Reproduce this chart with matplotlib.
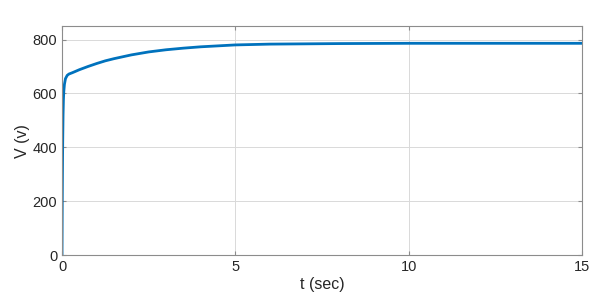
import matplotlib
matplotlib.use("Agg")
import matplotlib.pyplot as plt

t = [0, 0.005, 0.01, 0.015, 0.02, 0.03, 0.04, 0.05, 0.07, 0.1, 0.15, 0.2, 0.3, 0.5, 0.75, 1.0,
     1.25, 1.5, 2.0, 2.5, 3.0, 3.5, 4.0, 5.0, 6.0, 7.0, 8.0, 10.0, 12.0, 15.0]
V = [0, 150, 260, 350, 420, 520, 575, 605, 634, 655, 667, 672, 677, 688, 700, 711,
     721, 729, 743, 754, 762, 768, 773, 780, 783, 784, 785, 786, 786, 786]

xticks = [0, 5, 10, 15]
yticks = [0, 200, 400, 600, 800]

plt.rcParams['font.family'] = ['Liberation Sans', 'DejaVu Sans']
fig = plt.figure(figsize=(6.05, 3.03), dpi=100)
ax = fig.add_axes([0.1025, 0.158, 0.8595, 0.756])
ax.plot(t, V, color='#0072BD', lw=2)
ax.set_xlim(0, 15)
ax.set_ylim(0, 850)
ax.set_xticks(xticks)
ax.set_yticks(yticks)
ax.grid(True, color='#d9d9d9', lw=0.7)
ax.set_axisbelow(True)
for s in ax.spines.values():
    s.set_color('#8c8c8c')
    s.set_linewidth(0.8)
ax.tick_params(direction='in', length=3, colors='#8c8c8c', labelcolor='#262626', labelsize=10.5,
               top=True, right=True)
ax.set_xlabel('t (sec)', fontsize=11.5, color='#262626', labelpad=2)
ax.set_ylabel('V (v)', fontsize=11.5, color='#262626', labelpad=2)
fig.savefig('out.png', dpi=100)
